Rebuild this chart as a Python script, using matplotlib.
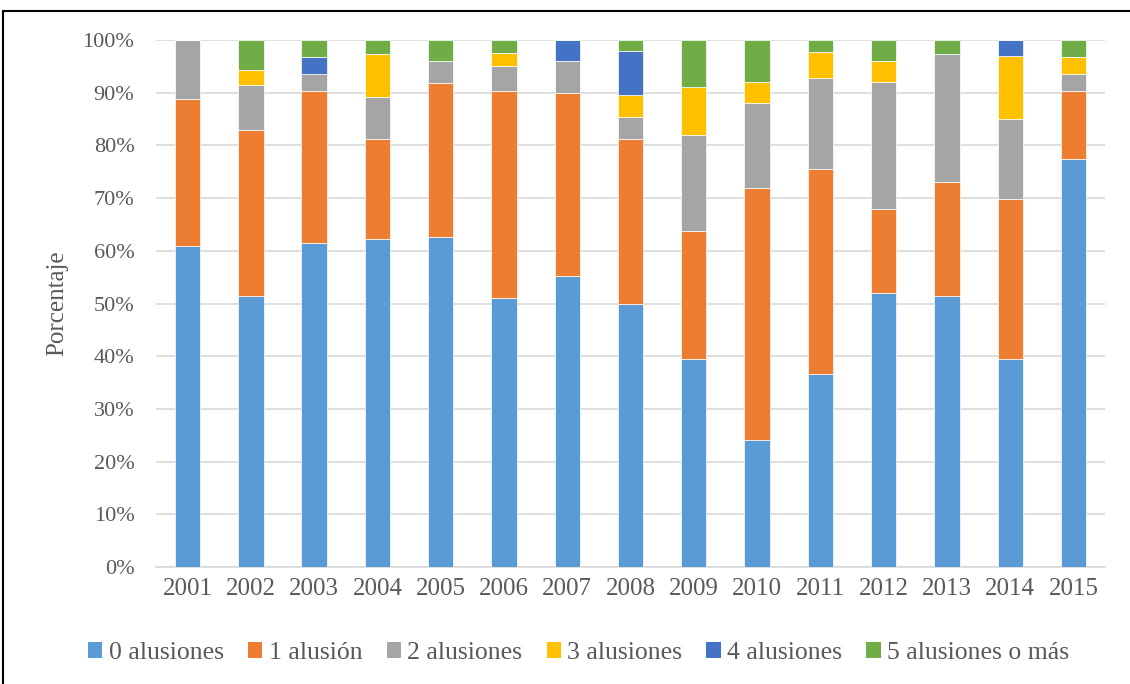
import matplotlib.pyplot as plt
from matplotlib.patches import Patch, Rectangle
import numpy as np

years = ['2001', '2002', '2003', '2004', '2005', '2006', '2007', '2008',
         '2009', '2010', '2011', '2012', '2013', '2014', '2015']
series_names = ['0 alusiones', '1 alusión', '2 alusiones', '3 alusiones',
                '4 alusiones', '5 alusiones o más']

# percentages, one list per category of allusions
cero = [61.0, 51.5, 61.5, 62.2, 62.6, 51.1, 55.2, 50.0, 39.4, 24.1, 36.7, 52.0, 51.4, 39.5, 77.4]
una = [27.9, 31.4, 28.9, 19.0, 29.2, 39.2, 34.7, 31.3, 24.3, 47.9, 38.9, 16.0, 21.6, 30.3, 13.0]
dos = [11.1, 8.5, 3.2, 8.0, 4.2, 4.8, 6.1, 4.1, 18.2, 16.1, 17.1, 24.1, 24.4, 15.2, 3.2]
tres = [0.0, 2.9, 0.0, 8.2, 0.0, 2.5, 0.0, 4.2, 9.1, 4.0, 5.0, 4.0, 0.0, 12.0, 3.2]
cuatro = [0.0, 0.0, 3.2, 0.0, 0.0, 0.0, 4.0, 8.4, 0.0, 0.0, 0.0, 0.0, 0.0, 3.0, 0.0]
cinco = [0.0, 5.7, 3.2, 2.6, 4.0, 2.4, 0.0, 2.0, 9.0, 7.9, 2.3, 3.9, 2.6, 0.0, 3.2]

colors = ['#5B9BD5', '#ED7D31', '#A5A5A5', '#FFC000', '#4472C4', '#70AD47']
text_color = '#595959'

plt.rcParams['font.family'] = ['Liberation Serif', 'DejaVu Serif']

fig = plt.figure(figsize=(11.3, 6.84), dpi=100)
ax = fig.add_axes([0.138, 0.171, 0.840, 0.7705])

x = np.arange(len(years))
bottom = np.zeros(len(years))
for vals, col in zip([cero, una, dos, tres, cuatro, cinco], colors):
    ax.bar(x, vals, width=0.4, bottom=bottom, color=col,
           edgecolor='white', linewidth=0.5, zorder=3)
    bottom += np.array(vals)

ax.set_xlim(-0.5, len(years) - 0.5)
ax.set_ylim(0, 100)
ax.set_yticks(np.arange(0, 101, 10))
ax.set_yticklabels([f'{v}%' for v in range(0, 101, 10)])
ax.set_xticks(x)
ax.set_xticklabels(years)
ax.tick_params(axis='y', length=0, pad=15.5, labelsize=16, labelcolor=text_color)
ax.tick_params(axis='x', length=0, pad=8, labelsize=18, labelcolor=text_color)
ax.grid(axis='y', color='#D9D9D9', linewidth=1.2, zorder=0)
for s in ['top', 'right', 'left']:
    ax.spines[s].set_visible(False)
ax.spines['bottom'].set_color('#D9D9D9')
ax.spines['bottom'].set_linewidth(1.2)

ax.set_ylabel('Porcentaje', fontsize=18, color=text_color, labelpad=10)

handles = [Patch(facecolor=c, edgecolor='none') for c in colors]
fig.legend(handles, series_names, loc='center', bbox_to_anchor=(0.512, 0.045),
           ncol=6, frameon=False, fontsize=18.5, handlelength=0.55,
           handleheight=0.55, handletextpad=0.25, columnspacing=0.95,
           labelcolor=text_color)

# outer frame of the chart
fig.patches.append(Rectangle((0.003, -0.05), 1.05, 1.034, transform=fig.transFigure,
                             fill=False, edgecolor='black', linewidth=1.5))

fig.savefig('out.png', dpi=100)
